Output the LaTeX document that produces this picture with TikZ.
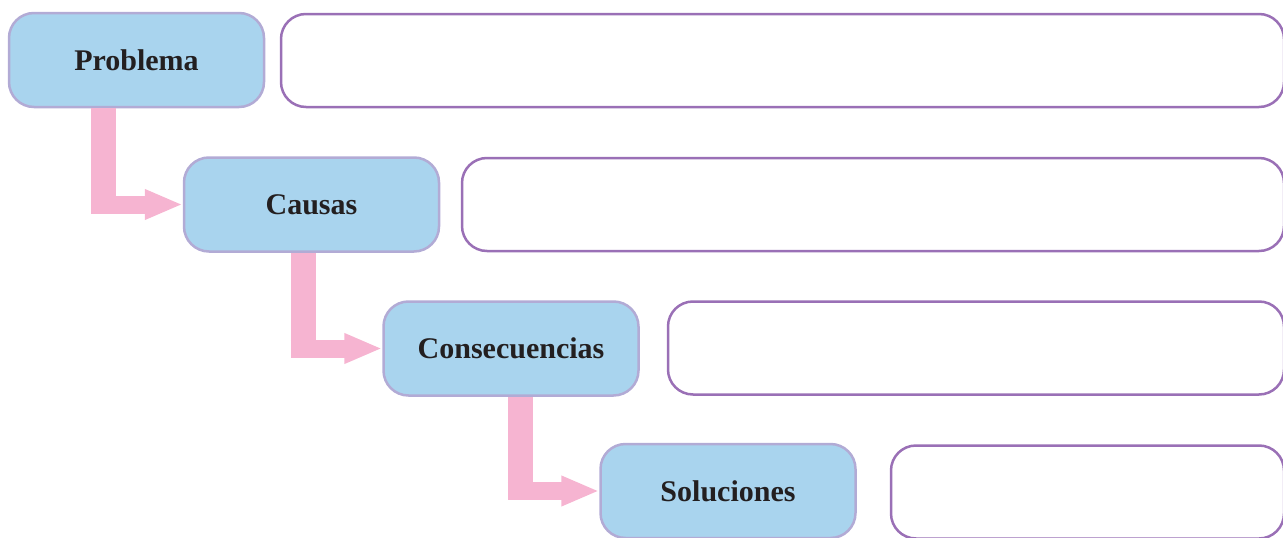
\documentclass[tikz,border=0pt]{standalone}
\usepackage{fontspec}
\setmainfont{Liberation Serif}
\usetikzlibrary{arrows.meta}

\definecolor{boxblue}{HTML}{A9D4EE}
\definecolor{boxedge}{HTML}{B2ABD5}
\definecolor{answeredge}{HTML}{9A70B6}
\definecolor{arrowpink}{HTML}{F6B4D1}
\definecolor{labeltext}{HTML}{231F20}

\tikzset{
  stage/.style={draw=boxedge, fill=boxblue, line width=2.5pt, rounded corners=25pt,
    minimum width=255pt, minimum height=94pt, text=labeltext,
    font=\fontsize{30}{36}\selectfont\bfseries},
  answer/.style={draw=answeredge, line width=2.5pt, rounded corners=25pt,
    minimum height=93pt},
  stem/.style={arrowpink, line width=25pt},
  pointer/.style={arrowpink, line width=18pt, -{Triangle[length=38pt,width=28pt]}},
}

\begin{document}
\begin{tikzpicture}[x=1pt, y=-1pt]

  \useasboundingbox (0,0) rectangle (1283,538);
  \clip (0,0) rectangle (1283,538);

  % the four stages
  \node[stage] (Problema)      at (136.5, 60)   {Problema};
  \node[stage] (Causas)        at (311.5, 204.5) {Causas};
  \node[stage] (Consecuencias) at (511, 348.5)  {Consecuencias};
  \node[stage] (Soluciones)    at (728, 491)    {Soluciones};

  % empty boxes to write in
  \node[answer, minimum width=1003pt] (problemaText)      at (782.5, 60.5) {};
  \node[answer, minimum width=822pt]  (causasText)        at (873, 204.5)  {};
  \node[answer, minimum width=616pt]  (consecuenciasText) at (976, 348)    {};
  \node[answer, minimum width=393pt]  (solucionesText)    at (1087.5, 492) {};

  % elbow arrows between the stages
  \foreach \from/\to/\dx in {Problema/Causas/-33, Causas/Consecuencias/-8.5,
                             Consecuencias/Soluciones/9} {
    \coordinate (top) at ([xshift=\dx pt]\from.south);
    \coordinate (bend) at ([yshift=-9pt]\to.west);
    \coordinate (start) at (top |- \to.west);
    \draw[stem] (top) -- (top |- bend);
    \draw[pointer] ([xshift=-12.5pt]start) -- (\to.west);
  }

\end{tikzpicture}
\end{document}
